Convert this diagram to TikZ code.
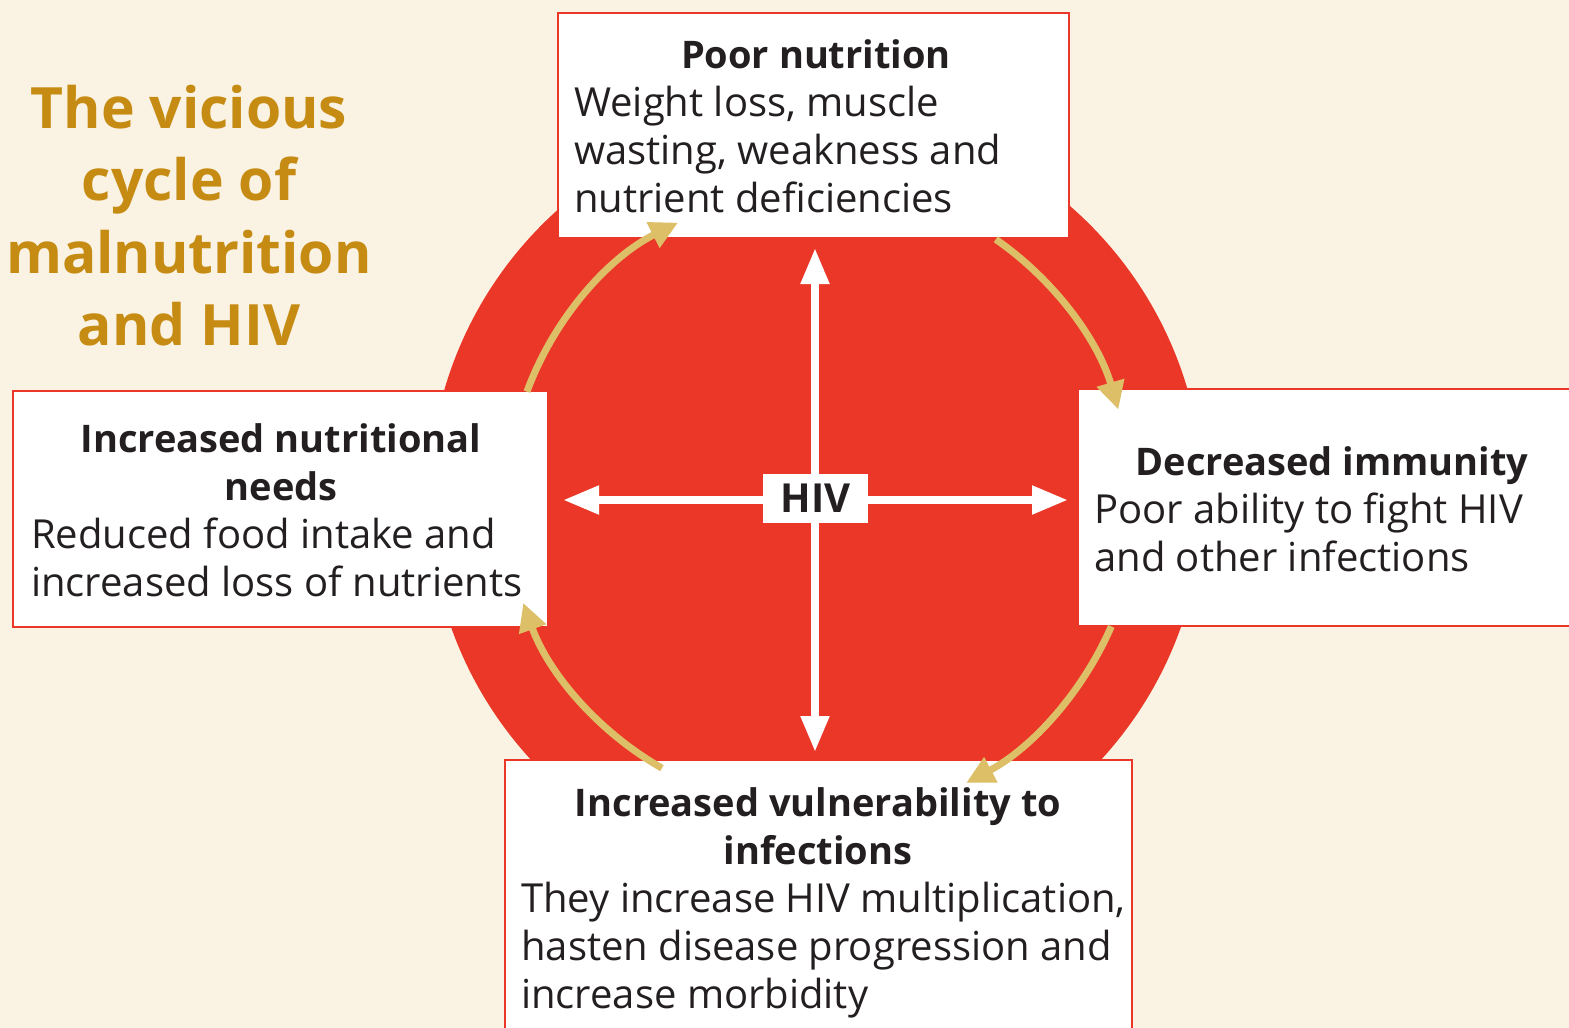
\documentclass[tikz,border=0pt]{standalone}
\usepackage{fontspec}
\setmainfont{Open Sans}
\usetikzlibrary{arrows.meta}
\definecolor{bgc}{HTML}{FAF3E4}
\definecolor{redc}{HTML}{EA3727}
\definecolor{goldc}{HTML}{DDBF68}
\definecolor{titlec}{HTML}{C68B12}
\definecolor{textc}{HTML}{231F20}
\begin{document}
\begin{tikzpicture}[x=1pt,y=1pt,
  box/.style={draw=redc, line width=2pt, fill=white, anchor=north west, inner sep=0pt},
  txt/.style={anchor=base west, inner sep=0pt, text=textc, font=\fontsize{40}{48}\selectfont},
  ttl/.style={anchor=base, inner sep=0pt, text=textc, font=\fontsize{38}{48}\selectfont\bfseries},
  bigttl/.style={anchor=base, inner sep=0pt, text=titlec, font=\fontsize{57}{71}\selectfont\bfseries},
  goldarr/.style={draw=goldc, line width=7pt, -{Triangle[length=28pt,width=27pt]}},
  whitearr/.style={draw=white, line width=8pt, {Triangle[length=36pt,width=27pt]}-{Triangle[length=36pt,width=27pt]}},
]
\clip (0,0) rectangle (1569,-1028);
\fill[bgc] (0,0) rectangle (1569,-1028);
\coordinate (c) at (816,-498);
\fill[redc] (c) circle[radius=387];

% white cross
\coordinate (vt) at (815,-248);
\coordinate (vb) at (815,-752);
\coordinate (hl) at (563,-500);
\coordinate (hr) at (1068,-500);
\draw[whitearr] (vt) -- (vb);
\draw[whitearr] (hl) -- (hr);
\node[fill=white, minimum width=105pt, minimum height=49pt, inner sep=0pt,
  text=textc, font=\fontsize{40}{48}\selectfont\bfseries] (hiv) at (815.5,-498.5) {HIV};

% boxes
\node[box, minimum width=511pt, minimum height=225pt] (topbox) at (557,-12) {};
\node[box, minimum width=535pt, minimum height=236pt] (leftbox) at (12,-390) {};
\node[box, minimum width=523pt, minimum height=237pt] (rightbox) at (1077,-388) {};
\node[box, minimum width=627pt, minimum height=301pt] (botbox) at (504,-759) {};

% title
\node[bigttl] (t1) at (189,-128) {The vicious};
\node[bigttl] (t2) at (189,-200) {cycle of};
\node[bigttl] (t3) at (189,-273) {malnutrition};
\node[bigttl] (t4) at (189,-345) {and HIV};

% top box text
\node[ttl] (pn) at (816,-68) {Poor nutrition};
\node[txt] (pn1) at (574,-116) {Weight loss, muscle};
\node[txt] (pn2) at (574,-164) {wasting, weakness and};
\node[txt] (pn3) at (574,-212) {nutrient deficiencies};

% left box text
\node[ttl] (in) at (281,-452) {Increased nutritional};
\node[ttl] (in0) at (281,-500) {needs};
\node[txt] (in1) at (31,-548) {Reduced food intake and};
\node[txt] (in2) at (31,-596) {increased loss of nutrients};

% right box text
\node[ttl] (di) at (1332,-475) {Decreased immunity};
\node[txt] (di1) at (1094,-523) {Poor ability to fight HIV};
\node[txt] (di2) at (1094,-571) {and other infections};

% bottom box text
\node[ttl] (iv) at (818,-816) {Increased vulnerability to};
\node[ttl] (iv0) at (818,-864) {infections};
\node[txt] (iv1) at (521,-912) {They increase HIV multiplication,};
\node[txt] (iv2) at (521,-960) {hasten disease progression and};
\node[txt] (iv3) at (521,-1008) {increase morbidity};

% gold cycle arrows
\path (c) ++(159.8:308) coordinate (g1s);
\path (c) ++(55.2:315) coordinate (g2s);
\path (c) ++(-23.5:322) coordinate (g3s);
\path (c) ++(-119.7:311) coordinate (g4s);
\draw[goldarr] (g1s) arc[start angle=159.8, end angle=116.6, radius=308];
\draw[goldarr] (g2s) arc[start angle=55.2, end angle=16.3, radius=315];
\draw[goldarr] (g3s) arc[start angle=-23.5, end angle=-62.2, radius=322];
\draw[goldarr] (g4s) arc[start angle=-119.7, end angle=-160.3, radius=311];
\end{tikzpicture}
\end{document}
